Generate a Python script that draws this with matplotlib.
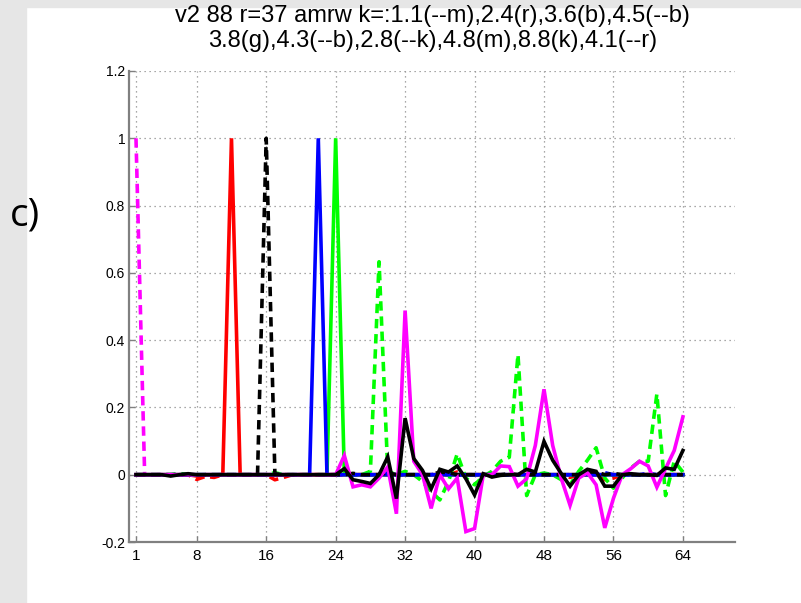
import matplotlib
matplotlib.use("Agg")
import matplotlib.pyplot as plt
import numpy as np

x = list(range(1, 65))

def spikes(d):
    v = [0.0] * 64
    for k, val in d.items():
        v[k - 1] = val
    return v

mag_dash = spikes({1: 1.0})
red_solid = spikes({12: 1.0, 8: -0.004})
blue_solid = spikes({22: 1.0})
blue_dash = spikes({30: 0.004, 36: 0.004, 46: 0.005, 55: 0.006, 60: 0.004})
green_solid = spikes({24: 1.0})
green_dash = spikes({
    6: 0.004, 17: 0.006, 25: 0.005, 28: 0.01, 29: 0.633, 30: 0.01, 32: 0.01,
    34: -0.02, 35: -0.05, 36: -0.075, 37: -0.02, 38: 0.062, 39: -0.01, 40: -0.03,
    41: -0.005, 42: 0.01, 43: 0.04, 44: 0.052, 45: 0.357, 46: -0.062, 47: 0.0,
    48: 0.005, 50: -0.015, 51: -0.03, 52: 0.01, 53: 0.043, 54: 0.08, 55: -0.01,
    56: -0.04, 57: -0.01, 58: 0.02, 59: 0.04, 60: 0.04, 61: 0.24, 62: -0.062,
    63: 0.04, 64: 0.008})
black_dash = spikes({16: 1.0, 17: 0.003, 26: 0.004, 30: 0.006, 36: 0.008, 37: 0.006,
                     44: 0.003, 53: 0.008, 54: 0.008, 56: 0.004})
mag_solid = spikes({
    25: 0.057, 26: -0.036, 27: -0.03, 28: -0.036, 29: -0.01, 30: 0.023, 31: -0.116,
    32: 0.488, 33: 0.04, 34: 0.0, 35: -0.10, 36: 0.0, 37: -0.042, 38: -0.01,
    39: -0.169, 40: -0.16, 41: 0.0, 42: 0.0, 43: 0.026, 44: 0.024, 45: -0.034,
    46: -0.012, 47: 0.087, 48: 0.254, 49: 0.087, 50: -0.012, 51: -0.091, 52: -0.01,
    53: 0.006, 54: -0.03, 55: -0.158, 56: -0.07, 57: 0.0, 58: 0.018, 59: 0.04,
    60: 0.026, 61: -0.037, 62: 0.018, 63: 0.072, 64: 0.172})
black_solid = spikes({
    5: -0.004, 7: 0.003, 25: 0.018, 26: -0.015, 27: -0.02, 28: -0.026, 29: 0.0,
    30: 0.053, 31: -0.071, 32: 0.168, 33: 0.048, 34: 0.013, 35: -0.042, 36: 0.016,
    37: 0.008, 38: 0.026, 39: -0.012, 40: -0.06, 41: 0.003, 42: -0.007, 43: -0.002,
    46: 0.016, 47: 0.008, 48: 0.099, 49: 0.043, 50: 0.003, 51: -0.034, 53: 0.016,
    54: 0.01, 55: -0.034, 56: -0.034, 58: 0.003, 61: -0.002, 62: 0.02, 63: 0.016,
    64: 0.072})
red_dash = spikes({8: -0.014, 9: -0.005, 10: -0.008, 17: -0.015, 18: -0.008,
                   25: 0.01, 36: -0.005, 38: 0.008, 51: -0.008, 55: -0.015, 56: -0.01})

series = [
    (mag_dash, (1, 0, 1), "--"),
    (red_dash, (1, 0, 0), "--"),
    (red_solid, (1, 0, 0), "-"),
    (green_solid, (0, 1, 0), "-"),
    (green_dash, (0, 1, 0), "--"),
    (blue_solid, (0, 0, 1), "-"),
    (blue_dash, (0, 0, 1), "--"),
    (black_dash, (0, 0, 0), "--"),
    (mag_solid, (1, 0, 1), "-"),
    (black_solid, (0, 0, 0), "-"),
]

xticks = [1, 8, 16, 24, 32, 40, 48, 56, 64]
yticks = [-0.2, 0, 0.2, 0.4, 0.6, 0.8, 1, 1.2]
yticklabels = ["-0.2", "0", "0.2", "0.4", "0.6", "0.8", "1", "1.2"]
title = "v2 88 r=37 amrw k=:1.1(--m),2.4(r),3.6(b),4.5(--b)\n3.8(g),4.3(--b),2.8(--k),4.8(m),8.8(k),4.1(--r)"

plt.rcParams['font.family'] = ['Liberation Sans', 'DejaVu Sans']

fig = plt.figure(figsize=(8.01, 6.03), dpi=100, facecolor='white')
# gray frame strips
fig.patches.append(plt.Rectangle((0, 0), 26 / 801, 1, transform=fig.transFigure,
                                 color=(0.9, 0.9, 0.9), zorder=-10))
fig.patches.append(plt.Rectangle((0, 1 - 7 / 603), 1, 7 / 603, transform=fig.transFigure,
                                 color=(0.9, 0.9, 0.9), zorder=-10))

ax = fig.add_axes([129.3 / 801, 61 / 603, (735 - 129.3) / 801, (542 - 71) / 603])
for vals, col, ls in series:
    line, = ax.plot(x, vals, color=col, lw=2.6, ls=ls, solid_joinstyle='miter')
    if ls == "--":
        line.set_dashes((2.6, 1.6))

ax.set_xlim(0.23, 70)
ax.set_ylim(-0.2, 1.2)
ax.set_xticks(xticks)
ax.set_xticklabels([str(t) for t in xticks], fontsize=11)
ax.set_yticks(yticks)
ax.set_yticklabels(yticklabels, fontsize=10)
ax.grid(True, color=(0.55, 0.55, 0.55), ls=(0, (1, 3)), lw=0.9)
ax.set_axisbelow(True)
for s in ['top', 'right']:
    ax.spines[s].set_visible(False)
for s in ['left', 'bottom']:
    ax.spines[s].set_color((0.5, 0.5, 0.5))
    ax.spines[s].set_linewidth(1.6)
ax.tick_params(axis='both', direction='in', length=4, color=(0.5, 0.5, 0.5), width=1)
ax.tick_params(axis='x', pad=5)
ax.tick_params(axis='y', pad=3)

fig.text((129.3 + 735) / 2 / 801, 1 - 5 / 603, title, ha='center', va='top',
         fontsize=17, linespacing=1.15)
fig.text(10 / 801, 1 - 216 / 603, "c)", fontsize=28, family=['Open Sans', 'DejaVu Sans'],
         ha='left', va='center')

fig.savefig("out.png", dpi=100)
